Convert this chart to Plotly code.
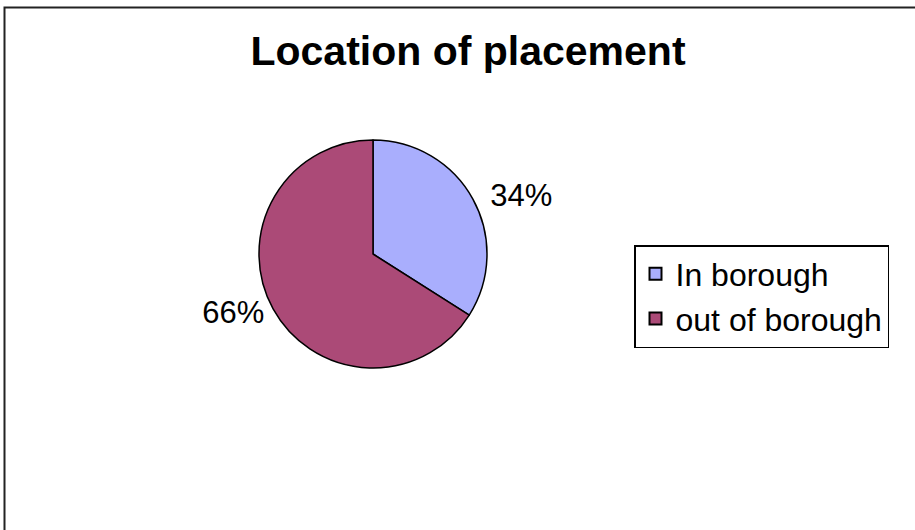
import plotly.graph_objects as go

labels = ["In borough", "out of borough"]
values = [34, 66]
colors = ["#A9AEFD", "#AB4A77"]
title_text = "Location of placement"

W, H = 915, 530
cx, cy, r = 373, 254, 114

fig = go.Figure(go.Pie(
    labels=labels,
    values=values,
    sort=False,
    direction="clockwise",
    rotation=0,
    marker=dict(colors=colors, line=dict(color="black", width=1.5)),
    textinfo="percent",
    textposition="outside",
    texttemplate=["\u00a0%{percent:.0%}", "%{percent:.0%}"],
    textfont=dict(family="Liberation Sans, Arial", size=31, color="black"),
    domain=dict(x=[(cx - r) / W, (cx + r) / W], y=[1 - (cy + r) / H, 1 - (cy - r) / H]),
    showlegend=True,
    hoverinfo="label+percent",
))

fig.update_layout(
    width=W, height=H,
    margin=dict(l=0, r=0, t=0, b=0),
    paper_bgcolor="white",
    plot_bgcolor="white",
    font=dict(family="Liberation Sans, Arial", color="black"),
    title=dict(text="<b>" + title_text + "</b>", x=468 / W, xanchor="center",
               y=1 - 51 / H, yanchor="middle",
               font=dict(family="Liberation Sans, Arial", size=41, color="black")),
    legend=dict(x=634 / W, xanchor="left", y=1 - 245 / H, yanchor="top",
                bordercolor="black", borderwidth=1.5, bgcolor="white",
                font=dict(family="Liberation Sans, Arial", size=32, color="black"),
                itemsizing="constant", tracegroupgap=0),
    shapes=[dict(type="rect", xref="paper", yref="paper",
                 x0=4.5 / W, x1=1.02, y0=-0.02, y1=1 - 7.5 / H,
                 line=dict(color="#222", width=2))],
)

fig.write_html("out.html", config={"displayModeBar": False},
               post_script="document.body.style.margin='0';")
